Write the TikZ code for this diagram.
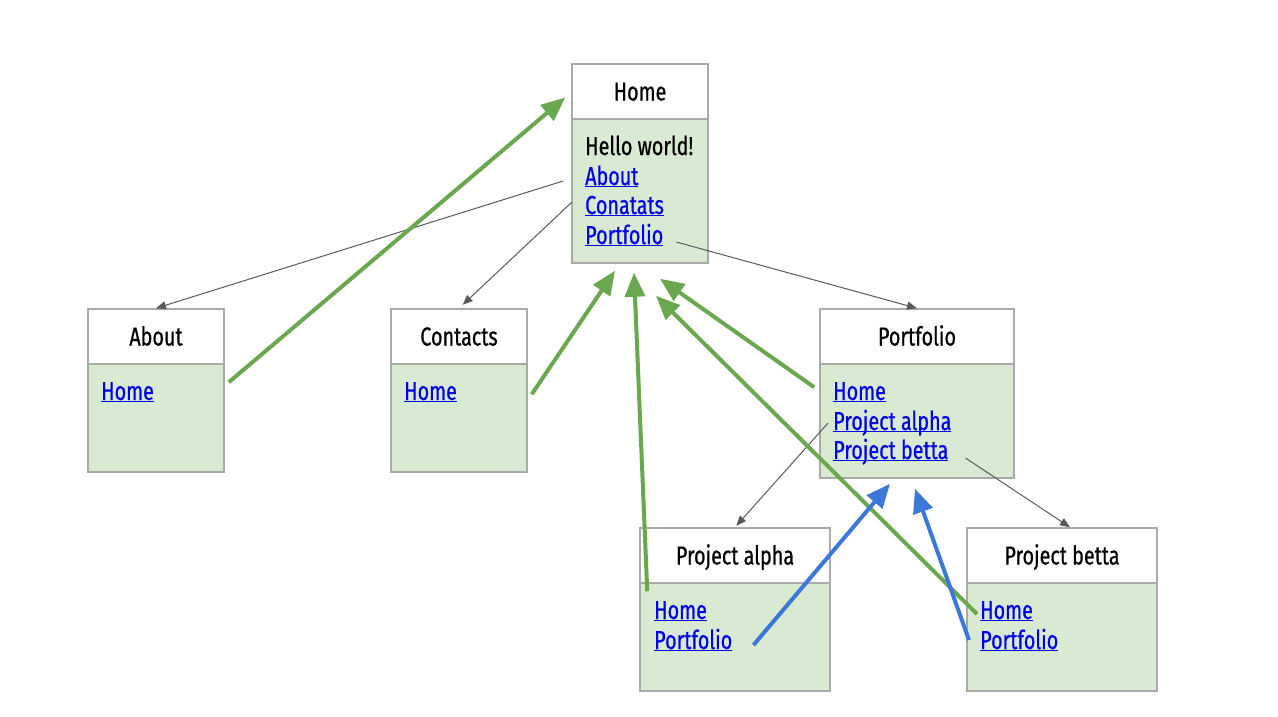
\documentclass[tikz,border=0pt]{standalone}
\usepackage{fontspec}
\setmainfont{Fira Sans}[FakeStretch=0.76, FakeBold=0.7]
\usetikzlibrary{arrows.meta,calc}
\definecolor{boxline}{HTML}{AAAAAA}
\definecolor{boxfill}{HTML}{D9EAD3}
\definecolor{linkblue}{HTML}{0000EE}
\definecolor{navgreen}{HTML}{6AA84F}
\definecolor{navblue}{HTML}{3C78D8}
\definecolor{refgray}{HTML}{595959}
\newcommand{\lnk}[1]{\underline{\smash{#1}}\vphantom{H}}

\begin{document}
\begin{tikzpicture}[x=1pt,y=-1pt]
    \tikzstyle{every node}=[font=\fontsize{26}{30}\selectfont, inner sep=0pt]
    \tikzstyle{head}=[draw=boxline, line width=1.5pt, fill=white, minimum height=55pt, text height=18pt, text depth=0pt]
    \tikzstyle{body}=[draw=boxline, line width=1.5pt, fill=boxfill]
    \tikzstyle{line}=[anchor=base west]
    \tikzstyle{link}=[anchor=base west, text=linkblue]
    \tikzstyle{ref}=[refgray, line width=1pt, -{Triangle[length=10pt,width=8pt]}]
    \tikzstyle{back}=[navgreen, line width=4pt, -{Triangle[length=24pt,width=20pt]}]
    \tikzstyle{up}=[navblue, line width=4pt, -{Triangle[length=24pt,width=20pt]}]

    \useasboundingbox (0,0) rectangle (1278,716);

    \node[body, minimum width=136pt, minimum height=144pt] (homeb) at (640,191) {};
    \node[head, minimum width=136pt] (home) at (640,91.5) {Home};
    \node[line] (hHello) at (585,155) {Hello world!};
    \node[link] (hAbout) at (585,185) {\lnk{About}};
    \node[link] (hConatats) at (585,214) {\lnk{Conatats}};
    \node[link] (hPortfolio) at (585,244) {\lnk{Portfolio}};

    \node[body, minimum width=136pt, minimum height=108pt] (aboutb) at (156,418) {};
    \node[head, minimum width=136pt] (about) at (156,336.5) {About};
    \node[link] (aHome) at (101,400) {\lnk{Home}};

    \node[body, minimum width=136pt, minimum height=108pt] (contactsb) at (459,418) {};
    \node[head, minimum width=136pt] (contacts) at (459,336.5) {Contacts};
    \node[link] (cHome) at (404,400) {\lnk{Home}};

    \node[body, minimum width=194pt, minimum height=114pt] (portfoliob) at (917,421) {};
    \node[head, minimum width=194pt] (portfolio) at (917,336.5) {Portfolio};
    \node[link] (pHome) at (833,400) {\lnk{Home}};
    \node[link] (pAlpha) at (833,430) {\lnk{Project alpha}};
    \node[link] (pBetta) at (833,459) {\lnk{Project betta}};

    \node[body, minimum width=190pt, minimum height=108pt] (alphab) at (735,637) {};
    \node[head, minimum width=190pt] (alpha) at (735,555.5) {Project alpha};
    \node[link] (aaHome) at (654,619) {\lnk{Home}};
    \node[link] (aaPortfolio) at (654,649) {\lnk{Portfolio}};

    \node[body, minimum width=190pt, minimum height=108pt] (bettab) at (1062,637) {};
    \node[head, minimum width=190pt] (betta) at (1062,555.5) {Project betta};
    \node[link] (bbHome) at (980,619) {\lnk{Home}};
    \node[link] (bbPortfolio) at (980,649) {\lnk{Portfolio}};

    \draw[ref] ($(hAbout.west)+(-22,4)$) -- (about.north);
    \draw[ref, shorten >=5pt] ($(hConatats.west)+(-13,-4)$) -- (contacts.north);
    \draw[ref] ($(hPortfolio.east)+(13,6)$) -- (portfolio.north);
    \draw[ref, shorten >=2pt] ($(pAlpha.west)+(-5,1)$) -- (alpha.north);
    \draw[ref] ($(pBetta.east)+(17,7)$) -- ($(betta.north)+(8,0)$);

    \draw[back] ($(aboutb.north east)+(4,19)$) -- ($(home.west)+(-6,6)$);
    \draw[back] ($(contactsb.north east)+(4,31)$) -- ($(homeb.south)+(-25,7)$);
    \draw[back] ($(alphab.north west)+(8,9)$) -- ($(homeb.south)+(-6,9)$);
    \draw[back] ($(portfoliob.north west)+(-5,24)$) -- ($(homeb.south)+(20,15)$);
    \draw[back] ($(bbHome.west)+(-3,3)$) -- ($(homeb.south)+(16,32)$);

    \draw[up] ($(aaPortfolio.east)+(21,4)$) -- ($(portfoliob.south)+(-27,5)$);
    \draw[up] ($(bbPortfolio.west)+(-11,-1)$) -- ($(portfoliob.south)+(-2,10)$);
\end{tikzpicture}
\end{document}
